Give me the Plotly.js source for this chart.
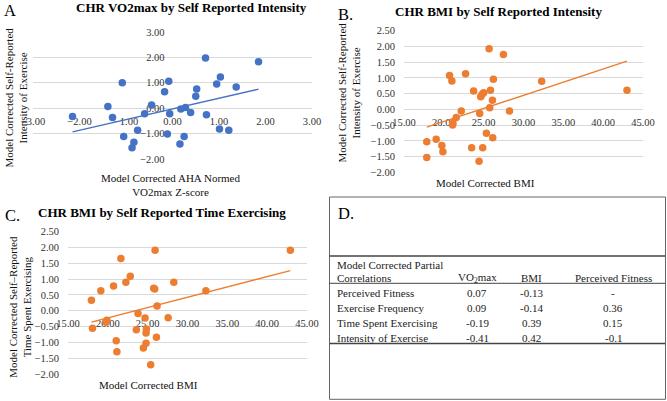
<!DOCTYPE html>
<html>
<head>
<meta charset="utf-8">
<script src="https://cdn.plot.ly/plotly-3.0.1.min.js"></script>
<style>html,body{margin:0;padding:0;background:#fff;}#chart{width:667px;height:401px;}</style>
</head>
<body>
<div id="chart"></div>
<script>
// ---- Panel A: VO2max z-score vs self-reported intensity ----
var vo2A = [-2.15,-1.39,-1.29,-1.08,-1.05,-0.75,-0.83,-0.87,-0.60,-0.45,-0.17,-0.08,-0.06,-0.11,0.18,0.28,0.39,0.25,0.16,0.50,0.52,0.71,0.73,0.95,1.03,1.01,1.21,1.37,1.85];
var intensityA = [-0.33,0.07,-0.37,1.00,-1.11,-0.87,-1.34,-1.56,-0.22,0.13,0.65,1.06,-0.22,-1.02,-0.03,0.03,-0.17,-1.11,-1.41,0.47,0.76,1.98,-0.26,0.95,1.23,-0.82,-0.87,0.83,1.83];

// ---- Panel B: BMI vs self-reported intensity ----
var bmiB = [17.86,17.86,19.04,19.75,19.88,20.72,21.01,21.10,21.14,21.56,22.19,22.73,23.49,23.74,24.50,24.42,24.63,24.80,25.00,24.88,25.34,25.68,25.85,25.76,26.10,26.22,26.14,27.48,28.24,32.28,42.99];
var intensityB = [-1.03,-1.53,-0.95,-1.15,-1.35,1.08,0.90,-0.50,-0.44,-0.26,-0.05,1.13,-1.22,0.58,-0.13,-1.65,0.40,0.48,0.53,-1.22,-0.76,1.93,0.61,0.05,0.29,0.96,-0.90,1.74,-0.05,0.89,0.61];

// ---- Panel C: BMI vs self-reported time exercising ----
var bmiC = [17.94,18.07,19.12,19.88,19.79,20.72,21.05,21.14,21.64,22.27,22.82,23.58,23.79,24.46,24.67,24.80,24.80,24.84,25.38,25.76,25.88,25.93,26.10,26.18,27.57,28.28,32.31,42.91];
var timeC = [0.33,-0.55,0.63,-0.30,-0.36,0.78,-0.95,-1.30,1.65,0.90,1.09,-0.60,-0.09,-1.18,-0.23,-1.03,-0.70,-0.58,-1.71,0.71,0.69,1.91,-0.84,0.15,-0.22,0.90,0.63,1.91];

// ---- Panel D: partial correlation table ----
var corrRowLabels = ["Perceived Fitness","Exercise Frequency","Time Spent Exercising","Intensity of Exercise"];
var corrVO2 = ["0.07","0.09","-0.19","-0.41"];
var corrBMI = ["-0.13","-0.14","0.39","0.42"];
var corrPF = ["-","0.36","0.15","-0.1"];
var corrHeaders = ["VO<sub>2</sub>max","BMI","Perceived Fitness"];

var W = 667, H = 401;
function fx(px){ return px / W; }
function fy(py){ return 1 - py / H; }

function fit(xs, ys){
  var n = xs.length, mx = 0, my = 0;
  for (var i=0;i<n;i++){ mx += xs[i]; my += ys[i]; }
  mx/=n; my/=n;
  var sxy=0, sxx=0;
  for (var i=0;i<n;i++){ sxy += (xs[i]-mx)*(ys[i]-my); sxx += (xs[i]-mx)*(xs[i]-mx); }
  var b = sxy/sxx, a = my - b*mx;
  var x0 = Math.min.apply(null, xs), x1 = Math.max.apply(null, xs);
  return {x:[x0,x1], y:[a+b*x0, a+b*x1]};
}

var BLUE = '#4472C4', ORANGE = '#ED7D31';
var serif = 'Liberation Serif, Times New Roman, serif';
var tickFont = {family: serif, size: 10.5, color: '#333'};

var fA = fit(vo2A, intensityA), fB = fit(bmiB, intensityB), fC = fit(bmiC, timeC);

var traces = [
  {x: vo2A, y: intensityA, type:'scatter', mode:'markers', xaxis:'x', yaxis:'y', marker:{color:BLUE, size:7.5}, hoverinfo:'none'},
  {x: fA.x, y: fA.y, type:'scatter', mode:'lines', xaxis:'x', yaxis:'y', line:{color:BLUE, width:1.3}, hoverinfo:'none'},
  {x: bmiB, y: intensityB, type:'scatter', mode:'markers', xaxis:'x2', yaxis:'y2', marker:{color:ORANGE, size:7.5}, hoverinfo:'none'},
  {x: fB.x, y: fB.y, type:'scatter', mode:'lines', xaxis:'x2', yaxis:'y2', line:{color:ORANGE, width:1.3}, hoverinfo:'none'},
  {x: bmiC, y: timeC, type:'scatter', mode:'markers', xaxis:'x3', yaxis:'y3', marker:{color:ORANGE, size:7.5}, hoverinfo:'none'},
  {x: fC.x, y: fC.y, type:'scatter', mode:'lines', xaxis:'x3', yaxis:'y3', line:{color:ORANGE, width:1.3}, hoverinfo:'none'}
];

// domains (px)
var A = {x0:33, x1:312, yTop:32, yBot:159, xr:[-3,3], yr:[-2,3]};
var B = {x0:404, x1:643, yTop:30.7, yBot:172.3, xr:[15,45], yr:[-2,2.5]};
var C = {x0:68, x1:307, yTop:231.7, yBot:374, xr:[15,45], yr:[-2,2.5]};

function zeroPosY(P){ // paper y of data y=0
  var f = (0 - P.yr[0])/(P.yr[1]-P.yr[0]);
  return fy(P.yBot) + f*(fy(P.yTop)-fy(P.yBot));
}
function zeroPosX(P){
  var f = (0 - P.xr[0])/(P.xr[1]-P.xr[0]);
  return fx(P.x0) + f*(fx(P.x1)-fx(P.x0));
}

function xax(P, dt){
  return {domain:[fx(P.x0), fx(P.x1)], range:P.xr, dtick:dt, tick0:P.xr[0], tickformat:'.2f',
    showgrid:false, zeroline:false, showline:false, ticks:'', tickfont:tickFont,
    anchor:'free', position: zeroPosY(P), layer:'below traces', ticklabelstandoff:5, fixedrange:true};
}
function yax(P, dt, pos){
  var o = {domain:[fy(P.yBot), fy(P.yTop)], range:P.yr, dtick:dt, tick0:P.yr[0], tickformat:'.2f',
    showgrid:true, gridcolor:'#d9d9d9', gridwidth:1, zeroline:false, showline:false, ticks:'', tickfont:tickFont,
    layer:'below traces', ticklabelstandoff:8, fixedrange:true};
  if (pos !== undefined){ o.anchor='free'; o.position=pos; }
  return o;
}

var yA = yax(A, 1, zeroPosX(A));
var yB = yax(B, 0.5); yB.anchor = 'x2';
var yC = yax(C, 0.5); yC.anchor = 'x3';
var xA = xax(A, 1), xB = xax(B, 5), xC = xax(C, 5);

function ann(text, px, py, opts){
  var a = {text:text, x:fx(px), y:fy(py), xref:'paper', yref:'paper', showarrow:false,
    xanchor:'center', yanchor:'middle', font:{family:serif, size:11, color:'#111'}};
  for (var k in opts){ a[k] = opts[k]; }
  return a;
}
var titleFont = {family:serif, size:13, color:'#000', weight:'bold'};
var letterFont = {family:serif, size:16.5, color:'#000'};

var annotations = [
  ann('<b>CHR VO2max by Self Reported Intensity</b>', 191, 8, {font:titleFont}),
  ann('<b>CHR BMI by Self Reported Intensity</b>', 498, 11.5, {font:titleFont}),
  ann('<b>CHR BMI by Self Reported Time Exercising</b>', 161.5, 212.5, {font:titleFont}),
  ann('A', 2, 11, {xanchor:'left', font:letterFont}),
  ann('B.', 336, 14.5, {xanchor:'left', font:letterFont}),
  ann('C.', 3, 215, {xanchor:'left', font:letterFont}),
  ann('D.', 336, 214, {xanchor:'left', font:letterFont}),
  ann('Model Corrected Self-Reported<br>Intensity of Exercise', 15.5, 98, {textangle:-90}),
  ann('Model Corrected AHA Normed<br>VO2max Z-score', 170, 184.5, {}),
  ann('Model Corrected Self-Reported<br>Intensity of Exercise', 348.5, 93, {textangle:-90}),
  ann('Model Corrected BMI', 485.7, 182.7, {}),
  ann('Model Corrected Self\u2013Reported<br>Time Spent Exercising', 19.7, 307, {textangle:-90}),
  ann('Model Corrected BMI', 148, 385, {})
];

// table
var tf = {family:serif, size:11, color:'#222'};
var colX = [477, 531.5, 613];
annotations.push(ann('Model Corrected Partial', 335, 265, {xanchor:'left', font:tf}));
annotations.push(ann('Correlations', 335, 278.3, {xanchor:'left', font:tf}));
for (var c=0;c<corrHeaders.length;c++){
  annotations.push(ann(corrHeaders[c], colX[c], 278.3, {font:tf}));
}
var rowY = [293.3, 308.3, 323.3, 337.7];
for (var r=0;r<corrRowLabels.length;r++){
  annotations.push(ann(corrRowLabels[r], 335, rowY[r], {xanchor:'left', font:tf}));
  annotations.push(ann(corrVO2[r], colX[0], rowY[r], {font:tf}));
  annotations.push(ann(corrBMI[r], colX[1], rowY[r], {font:tf}));
  annotations.push(ann(corrPF[r], colX[2], rowY[r], {font:tf}));
}

function hline(py, w){
  return {type:'line', xref:'paper', yref:'paper', x0:fx(329.5), x1:fx(665), y0:fy(py), y1:fy(py), line:{color:'#444', width:w}};
}
var shapes = [
  {type:'rect', xref:'paper', yref:'paper', x0:fx(329.5), x1:fx(665.5), y0:fy(399.3), y1:fy(197), line:{color:'#666', width:1}},
  hline(256, 1.3), hline(283.3, 1), hline(343.5, 1.3)
];

var layout = {
  width:W, height:H, margin:{l:0,r:0,t:0,b:0}, paper_bgcolor:'#fff', plot_bgcolor:'rgba(0,0,0,0)',
  showlegend:false, font:{family:serif},
  xaxis:xA, yaxis:yA, xaxis2:xB, yaxis2:yB, xaxis3:xC, yaxis3:yC,
  annotations:annotations, shapes:shapes
};

Plotly.newPlot('chart', traces, layout, {staticPlot:true, displayModeBar:false});
</script>
</body>
</html>
